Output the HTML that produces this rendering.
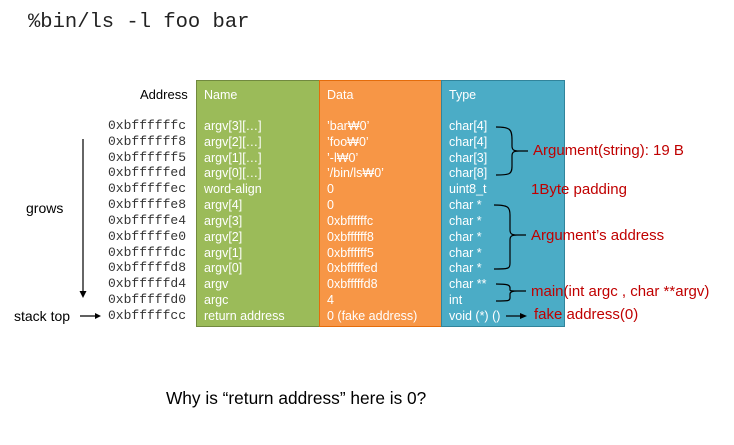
<!DOCTYPE html>
<html><head><meta charset="utf-8"><style>
body{margin:0;width:734px;height:445px;background:#fff;position:relative;overflow:hidden;font-family:"Liberation Sans","Noto Sans CJK KR",sans-serif}
.a{position:absolute;white-space:nowrap;line-height:16px}
.box{position:absolute;top:80px;height:247px;box-sizing:border-box}
.m{font-family:"Liberation Mono",monospace;font-size:13px;color:#333}
.w{color:#fff;font-size:12.5px}
.r{color:#c00000;font-size:15px}
</style></head><body>
<div class="a" style="left:28px;top:11px;font-family:'Liberation Mono',monospace;font-size:20.5px;line-height:24px;color:#222">%bin/ls -l foo bar</div>
<div class="box" style="left:196px;width:124px;background:#9BBB59;border:1.5px solid #71893F"></div>
<div class="box" style="left:319px;width:123px;background:#F79646;border:1.5px solid #E46C0A"></div>
<div class="box" style="left:441px;width:124px;background:#4BACC6;border:1.5px solid #31849B"></div>
<div class="a" style="left:140px;top:87px;font-size:13px">Address</div>
<div class="a w" style="left:204px;top:87px">Name</div>
<div class="a w" style="left:327px;top:87px">Data</div>
<div class="a w" style="left:449px;top:87px">Type</div>
<div id="rows"></div>
<svg width="734" height="445" style="position:absolute;left:0;top:0" fill="none" stroke="#000" stroke-width="1.2">
<line x1="83" y1="139" x2="83" y2="292"/><polygon points="79.5,291 86.5,291 83,298" fill="#000" stroke="none"/>
<line x1="80" y1="316" x2="97" y2="316"/><polygon points="95,313 101,316 95,319" fill="#000" stroke="none"/>
<line x1="506" y1="316" x2="522" y2="316"/><polygon points="520,313 527,316 520,319" fill="#000" stroke="none"/>
<path d="M496,127 C510,127 512,129 512,140 L512,146 C512,150 514,151 519,151 L528,151 M519,151 C514,151 512,152 512,156 L512,166 C512,174 510,175 496,175"/>
<path d="M494,205 C508,205 510,207 510,215 L510,230 C510,234 512,235 517,235 L526,235 M517,235 C512,235 510,236 510,240 L510,263 C510,269 508,269 494,269"/>
<path d="M496,284 C508,284 510,285 510,288 L510,290 C510,291 512,291 517,291 L526,291 M517,291 C512,291 510,292 510,294 L510,298 C510,301 508,301 496,301"/>
</svg>
<div class="a" style="left:26px;top:200px;font-size:14px">grows</div>
<div class="a" style="left:14px;top:308px;font-size:14px">stack top</div>
<div class="a r" style="left:533px;top:143px">Argument(string): 19 B</div>
<div class="a r" style="left:531px;top:182px">1Byte padding</div>
<div class="a r" style="left:531px;top:228px">Argument’s address</div>
<div class="a r" style="left:531px;top:284px">main(int argc , char **argv)</div>
<div class="a r" style="left:534px;top:307px">fake address(0)</div>
<div class="a" style="left:166px;top:388px;font-size:17.3px;line-height:20px">Why is “return address” here is 0?</div>
<script>
var d=[["0xbffffffc","argv[3][…]","'bar₩0'","char[4]"],["0xbffffff8","argv[2][…]","'foo₩0'","char[4]"],["0xbffffff5","argv[1][…]","'-l₩0'","char[3]"],["0xbfffffed","argv[0][…]","'/bin/ls₩0'","char[8]"],["0xbfffffec","word-align","0","uint8_t"],["0xbfffffe8","argv[4]","0","char *"],["0xbfffffe4","argv[3]","0xbffffffc","char *"],["0xbfffffe0","argv[2]","0xbffffff8","char *"],["0xbfffffdc","argv[1]","0xbffffff5","char *"],["0xbfffffd8","argv[0]","0xbfffffed","char *"],["0xbfffffd4","argv","0xbfffffd8","char **"],["0xbfffffd0","argc","4","int"],["0xbfffffcc","return address","0 (fake address)","void (*) ()"]];
var h="";d.forEach(function(r,i){var t=118+i*15.83;
h+='<div class="a m" style="left:108px;top:'+t+'px">'+r[0]+'</div>';
h+='<div class="a w" style="left:204px;top:'+t+'px">'+r[1]+'</div>';
h+='<div class="a w" style="left:327px;top:'+t+'px">'+r[2].replace(/'/g,i<4?"’":"'")+'</div>';
h+='<div class="a w" style="left:449px;top:'+t+'px">'+r[3]+'</div>';});
document.getElementById("rows").innerHTML=h;
</script>
</body></html>
